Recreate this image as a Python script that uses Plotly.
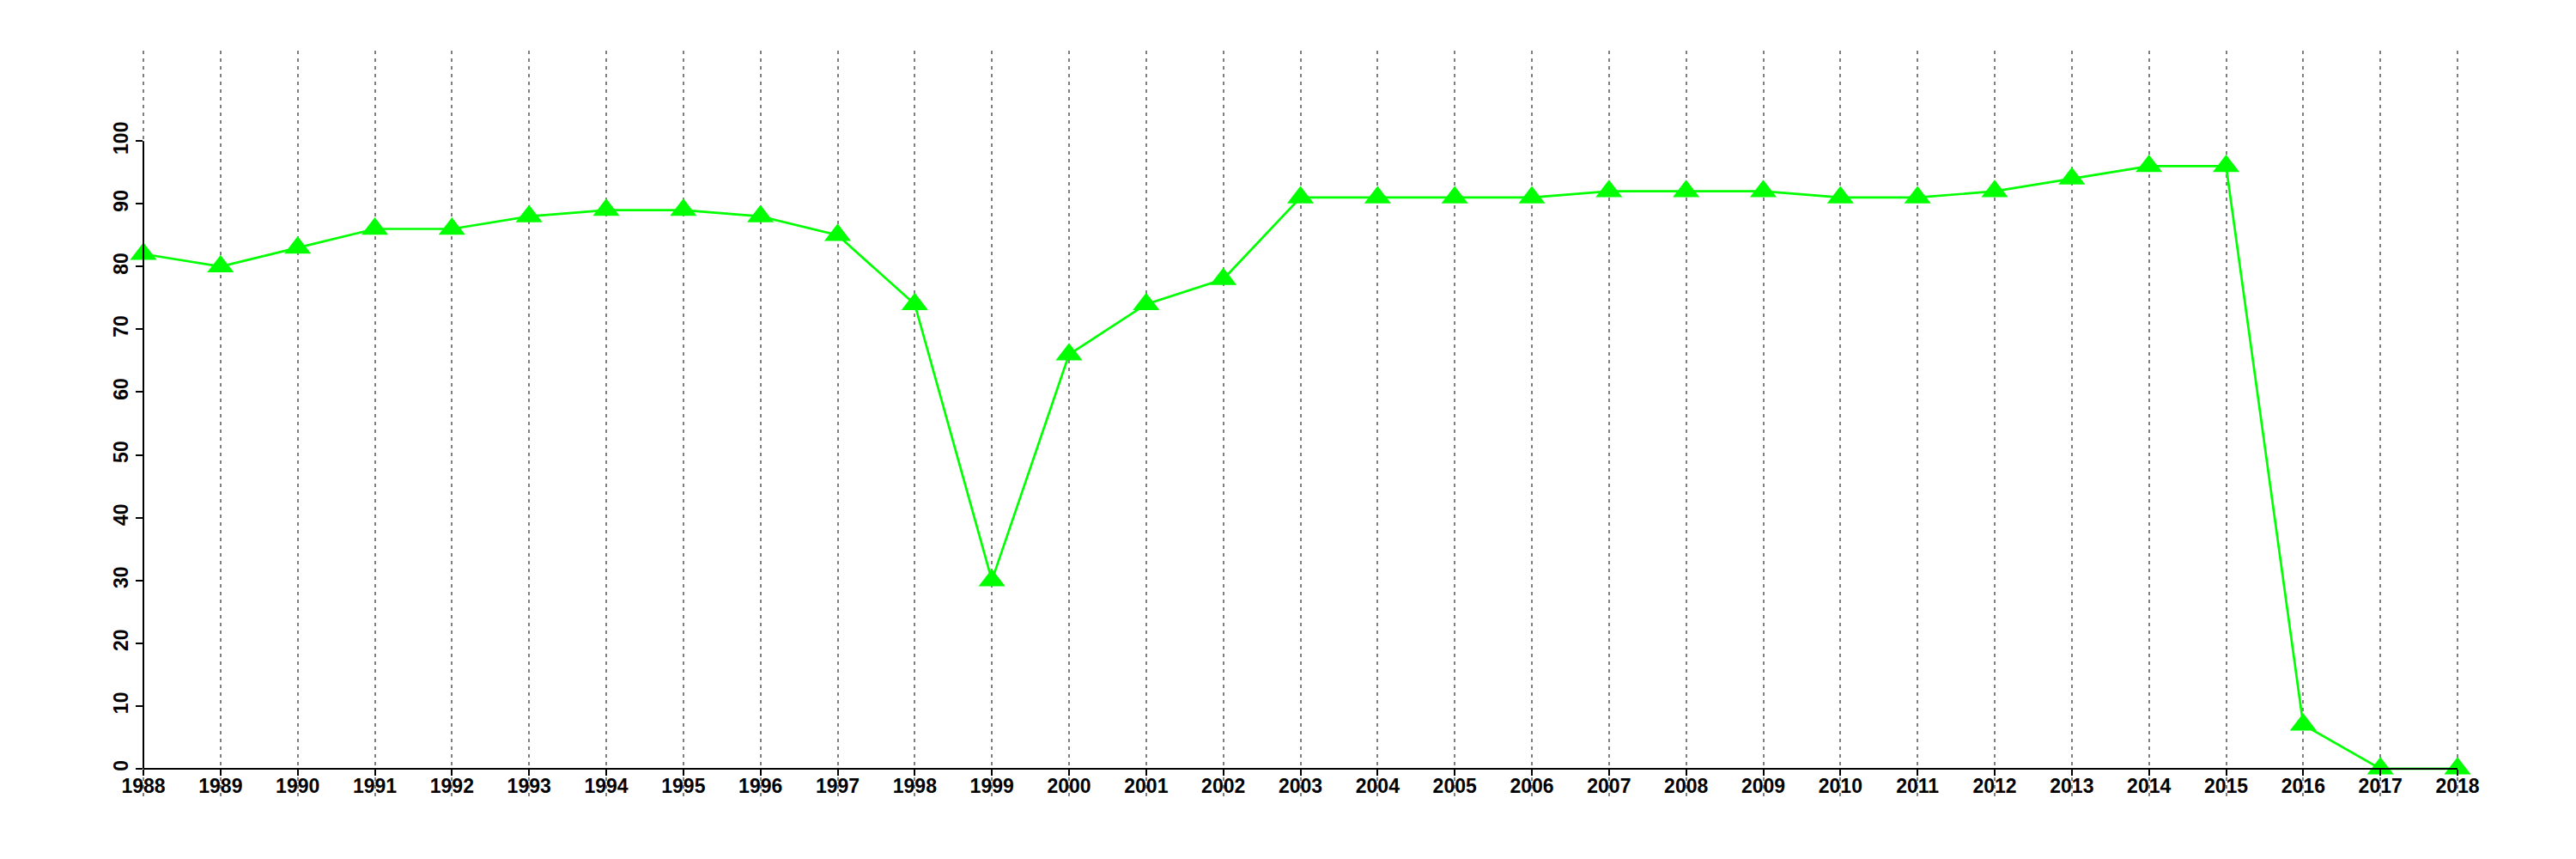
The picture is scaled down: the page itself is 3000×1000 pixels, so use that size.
import plotly.graph_objects as go

years = list(range(1988, 2019))
values = [82, 80, 83, 86, 86, 88, 89, 89, 88, 85, 74, 30, 66, 74, 78,
          91, 91, 91, 91, 92, 92, 92, 91, 91, 92, 94, 96, 96, 7, 0, 0]
y_ticks = list(range(0, 101, 10))

Y_MIN, Y_MAX = -4.4, 114.4
FONT = dict(family="Liberation Sans, Arial, Helvetica, sans-serif", size=23, color="black", weight="bold")
GRID = dict(color="#7f7f7f", width=2, dash="4px,5px")

fig = go.Figure()
fig.add_trace(go.Scatter(
    x=years, y=values, mode="lines+markers",
    line=dict(color="#00ff00", width=2.7),
    marker=dict(symbol="triangle-up", size=27, color="#00ff00", line=dict(width=0)),
    cliponaxis=False, showlegend=False, hoverinfo="skip",
))

shapes = [
    # edge gridlines (plotly drops gridlines at the very ends of the axis)
    dict(type="line", xref="paper", x0=0, x1=0, yref="paper", y0=0, y1=1, line=GRID, layer="below"),
    dict(type="line", xref="paper", x0=1, x1=1, yref="paper", y0=0, y1=1, line=GRID, layer="below"),
    # y axis line spanning only the tick range
    dict(type="line", xref="paper", x0=0, x1=0, yref="y", y0=y_ticks[0], y1=y_ticks[-1],
         line=dict(color="black", width=2), layer="above"),
]

fig.update_layout(
    width=3000, height=1000,
    paper_bgcolor="white", plot_bgcolor="white",
    margin=dict(l=167, r=138, t=59, b=73, pad=0),
    font=FONT,
    xaxis=dict(
        range=[years[0], years[-1]], tickmode="array", tickvals=years,
        ticktext=[str(y) for y in years],
        showgrid=True, gridcolor=GRID["color"], gridwidth=GRID["width"], griddash=GRID["dash"],
        zeroline=False, showline=True, linecolor="black", linewidth=2,
        ticks="outside", ticklen=7, tickwidth=2, tickcolor="black",
        ticklabelstandoff=-7,
        anchor="free", position=(0 - Y_MIN) / (Y_MAX - Y_MIN),
        tickfont=FONT,
    ),
    yaxis=dict(
        range=[Y_MIN, Y_MAX], tickmode="array", tickvals=y_ticks,
        ticktext=[str(v) for v in y_ticks],
        showgrid=False, zeroline=False, showline=False,
        ticks="outside", ticklen=8, tickwidth=2, tickcolor="black",
        tickangle=-90, tickfont=FONT,
    ),
    shapes=shapes,
)

fig.write_html("out.html", config={"displayModeBar": False},
               post_script="document.body.style.margin='0';document.body.style.overflow='hidden';")
